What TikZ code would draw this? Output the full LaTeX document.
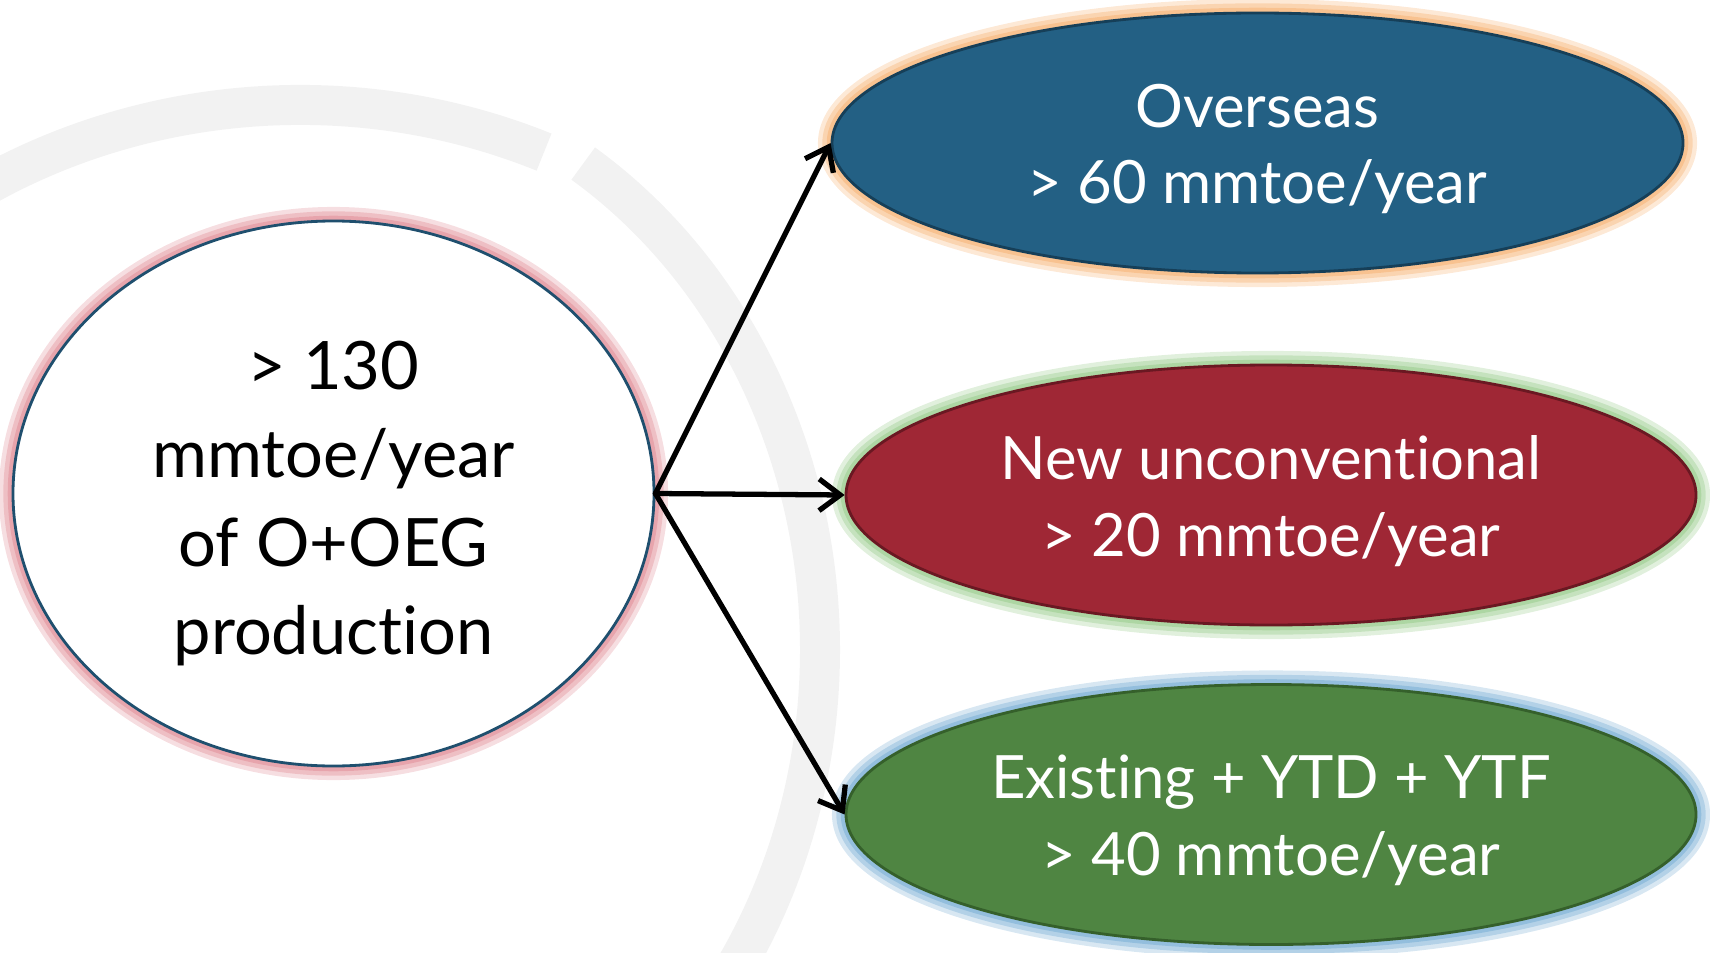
\documentclass[tikz,border=0pt]{standalone}
\usepackage{fontspec}
\setmainfont{Lato}[Ligatures=NoCommon]
\usetikzlibrary{shapes.geometric,arrows.meta}

\definecolor{seablue}{HTML}{236084}
\definecolor{seaedge}{HTML}{163F58}
\definecolor{winered}{HTML}{9F2735}
\definecolor{wineedge}{HTML}{6A1822}
\definecolor{leafgreen}{HTML}{4F8542}
\definecolor{leafedge}{HTML}{35602B}
\definecolor{rimblue}{HTML}{1F4F6E}
\definecolor{glowpink}{HTML}{E6A0A8}
\definecolor{gloworange}{HTML}{F8BF8A}
\definecolor{glowgreen}{HTML}{A9D49E}
\definecolor{glowblue}{HTML}{8EBBDB}

\tikzset{
  bubble/.style={ellipse, inner sep=0pt, line width=0.8pt},
  glow/.style={preaction={draw=#1, line width=8pt, draw opacity=0.35},
               preaction={draw=#1, line width=5.5pt, draw opacity=0.5},
               preaction={draw=#1, line width=3pt, draw opacity=0.85}},
  bigtext/.style={align=center, font=\fontsize{19}{25.2}\selectfont},
  smalltext/.style={align=center, text=white, font=\fontsize{17}{21.8}\selectfont},
  link/.style={-{Straight Barb[length=6pt,width=9pt]}, line width=1.5pt, line cap=round},
  fret/.style={draw=black!5, line width=0.4cm}
}

\begin{document}
\begin{tikzpicture}
  \useasboundingbox (0,0) rectangle (17.10,9.52);
  \begin{scope}
    \clip (0,0) rectangle (17.10,9.52);
    \coordinate (mark) at (3.00,3.02);
    \draw[fret] (mark) ++(150:6 and 5.45) arc[start angle=150, end angle=66, x radius=6, y radius=5.45];
    \draw[fret] (mark) ++(57:5.2 and 5.8) arc[start angle=57, end angle=-40, x radius=5.2, y radius=5.8];
  \end{scope}

  \draw (3.335,4.585) node[bubble, glow=glowpink, draw=rimblue, fill=white,
    minimum width=6.41cm, minimum height=5.45cm] (prod) {};
  \node[bigtext] (prodtxt) at ([yshift=-0.1cm]prod.center)
    {> 130\\mmtoe/year\\of O+OEG\\production};

  \draw (12.575,8.09) node[bubble, glow=gloworange, draw=seaedge, fill=seablue,
    minimum width=8.51cm, minimum height=2.6cm] (over) {};
  \node[smalltext] (overtxt) at ([yshift=-0.06cm]over.center) {Overseas\\> 60 mmtoe/year};

  \draw (12.71,4.57) node[bubble, glow=glowgreen, draw=wineedge, fill=winered,
    minimum width=8.5cm, minimum height=2.6cm] (uncon) {};
  \node[smalltext] (uncontxt) at ([yshift=-0.06cm]uncon.center) {New unconventional\\> 20 mmtoe/year};

  \draw (12.71,1.375) node[bubble, glow=glowblue, draw=leafedge, fill=leafgreen,
    minimum width=8.5cm, minimum height=2.6cm] (exist) {};
  \node[smalltext] (existtxt) at ([yshift=-0.06cm]exist.center) {Existing + YTD + YTF\\> 40 mmtoe/year};

  \path[link] (prod.east) edge (over.west);
  \path[link] (prod.east) edge (uncon.west);
  \path[link] (prod.east) edge (exist.west);
\end{tikzpicture}
\end{document}
